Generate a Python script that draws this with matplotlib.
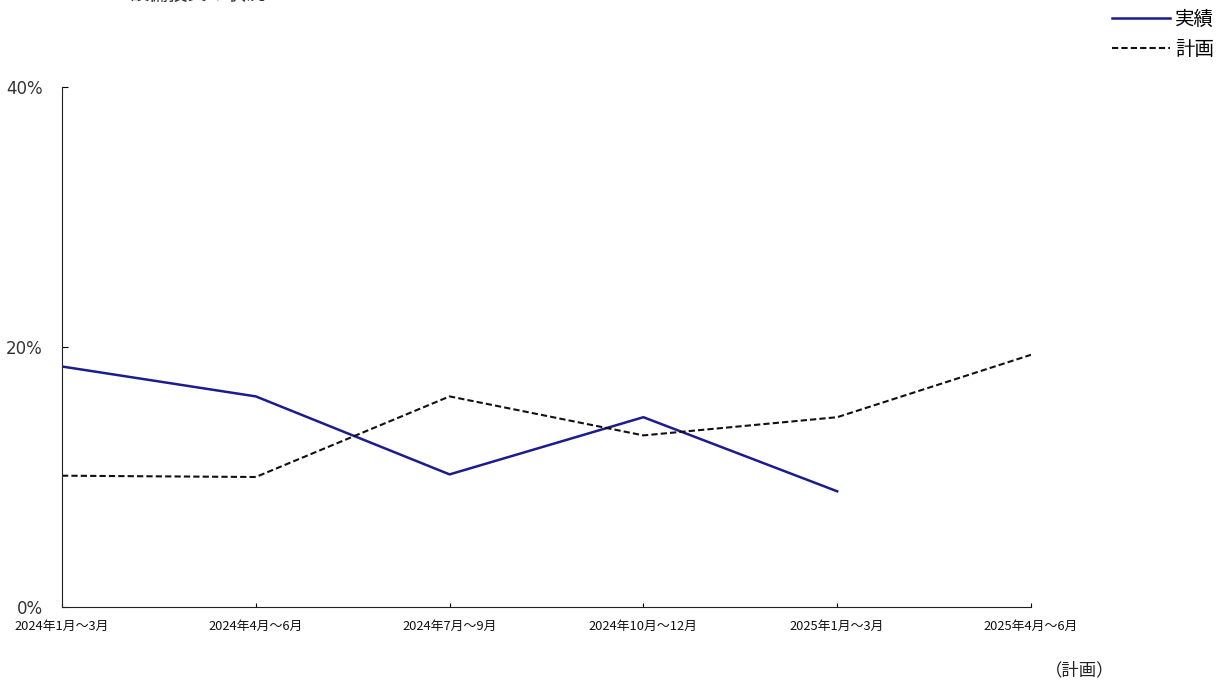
import matplotlib.pyplot as plt
from matplotlib.ticker import FuncFormatter

plt.rcParams['font.family'] = ['Noto Sans CJK JP', 'DejaVu Sans']

# データ（%）
periods = ["2024年1月～3月", "2024年4月～6月", "2024年7月～9月",
           "2024年10月～12月", "2025年1月～3月", "2025年4月～6月"]
actual = [18.5, 16.2, 10.2, 14.6, 8.9]
plan = [10.1, 10.0, 16.2, 13.2, 14.6, 19.4]
yticks = [0, 20, 40]

W, H = 1224, 684
fig = plt.figure(figsize=(W / 100, H / 100), dpi=100)
ax = fig.add_axes([62 / W, 1 - 607 / H, (1031 - 62) / W, (607 - 87) / H])

x = list(range(len(periods)))
ax.plot(x[:len(actual)], actual, color="#1c1c8e", lw=1.8, label="実績")
ax.plot(x, plan, color="#111111", lw=1.5, ls=(0, (3, 1.5)), label="計画")

ax.set_xlim(0, len(periods) - 1)
ax.set_ylim(0, 40)
ax.set_xticks(x)
ax.set_xticklabels(periods, fontsize=9.3, color="#111111")
ax.set_yticks(yticks)
ax.yaxis.set_major_formatter(FuncFormatter(lambda v, p: f"{v:.0f}%"))
ax.tick_params(axis="y", direction="in", length=4, labelsize=12, labelcolor="#333333", pad=14)
ax.tick_params(axis="x", direction="in", length=3, pad=9)
for lbl in ax.get_yticklabels():
    lbl.set_fontfamily(["DejaVu Sans"])
for s in ["top", "right"]:
    ax.spines[s].set_visible(False)
ax.spines["left"].set_color("#222222")
ax.spines["bottom"].set_color("#222222")

fig.text(198 / W, 1 + 6 / H, "設備投資の状況", ha="center", va="center", fontsize=14, color="#333333")
fig.text(1080 / W, 1 - 670 / H, "（計画）", ha="center", va="center", fontsize=12.5, color="#222222")

leg = fig.legend(loc="upper right", bbox_to_anchor=(1 - 2 / W, 1 - 1 / H), frameon=False,
                 fontsize=14, handlelength=3.0, handletextpad=0.25, labelspacing=0.45,
                 borderaxespad=0)

fig.savefig("out.png", dpi=100)
